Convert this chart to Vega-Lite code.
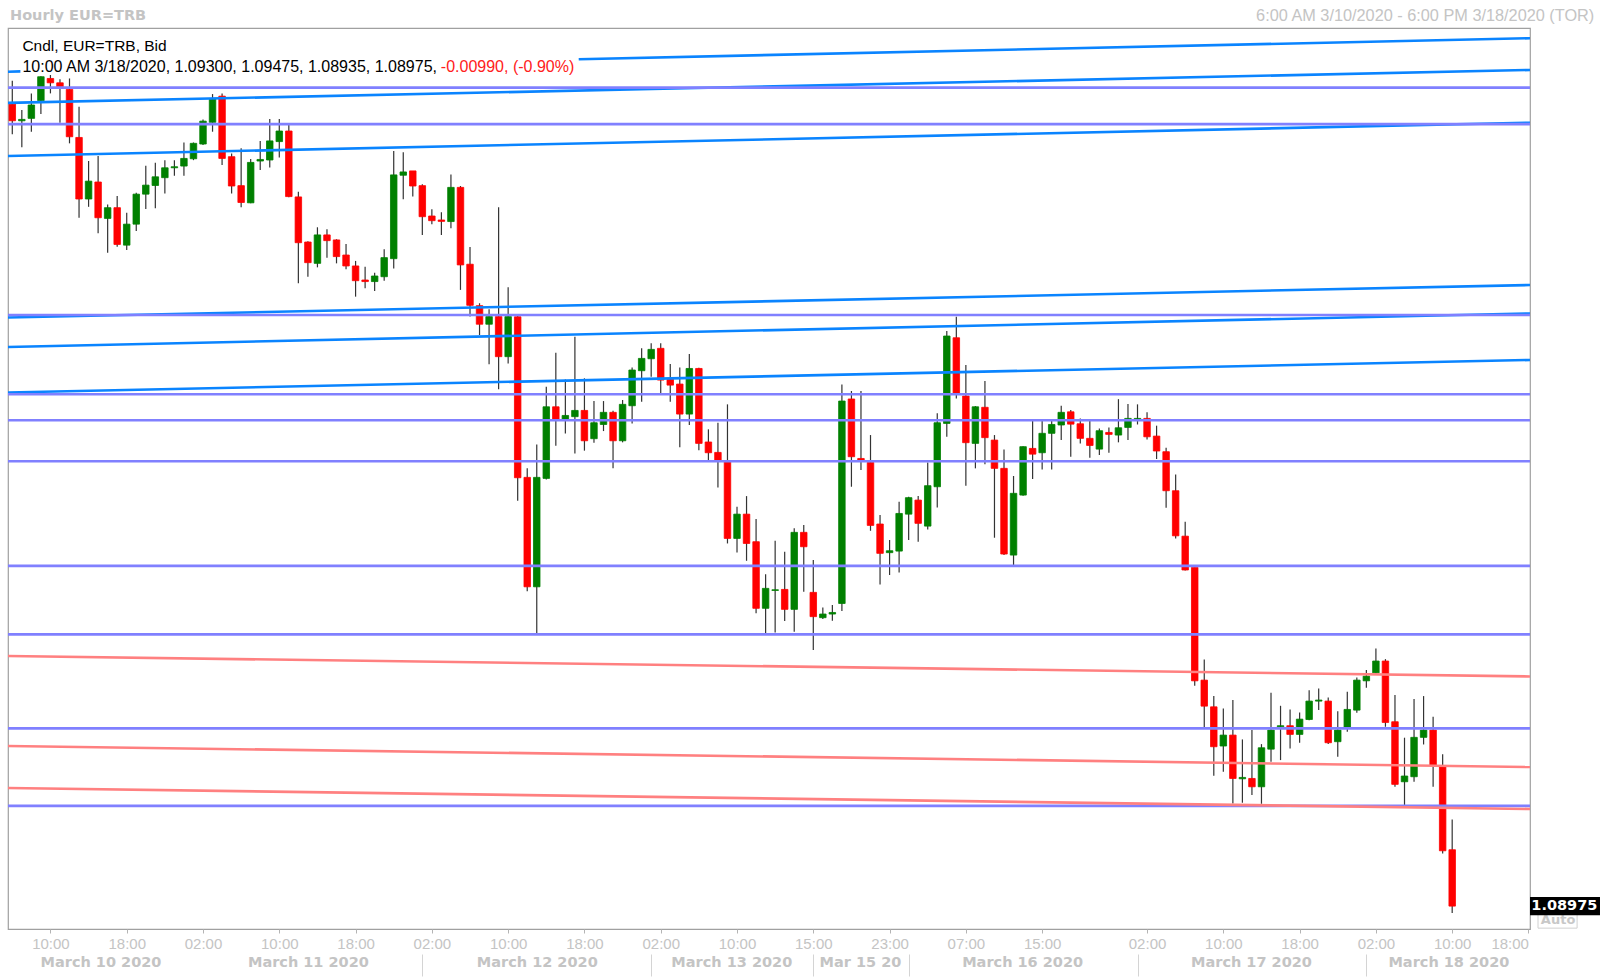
{
"$schema": "https://vega.github.io/schema/vega-lite/v6.json",
"width": 1522, "height": 901,
"autosize": "none",
"padding": {"left": 8, "top": 28, "right": 70, "bottom": 48},
"background": "white",
"config": {"view": {"stroke": "#a0a0a0", "strokeWidth": 1.2}, "font": "Liberation Sans", "scale": {"continuousPadding": 0}},
"datasets": {
"candles": [
{"i":0,"o":1.13599,"h":1.13734,"l":1.13426,"c":1.13503},
{"i":1,"o":1.13503,"h":1.13565,"l":1.13350,"c":1.13511},
{"i":2,"o":1.13517,"h":1.13661,"l":1.13440,"c":1.13594},
{"i":3,"o":1.13619,"h":1.13760,"l":1.13542,"c":1.13757},
{"i":4,"o":1.13747,"h":1.13767,"l":1.13661,"c":1.13722},
{"i":5,"o":1.13722,"h":1.13742,"l":1.13492,"c":1.13699},
{"i":6,"o":1.13684,"h":1.13747,"l":1.13373,"c":1.13411},
{"i":7,"o":1.13407,"h":1.13584,"l":1.12944,"c":1.13052},
{"i":8,"o":1.13052,"h":1.13271,"l":1.13007,"c":1.13155},
{"i":9,"o":1.13150,"h":1.13300,"l":1.12854,"c":1.12944},
{"i":10,"o":1.12940,"h":1.13021,"l":1.12742,"c":1.13002},
{"i":11,"o":1.13002,"h":1.13069,"l":1.12777,"c":1.12790},
{"i":12,"o":1.12786,"h":1.12973,"l":1.12758,"c":1.12907},
{"i":13,"o":1.12907,"h":1.13088,"l":1.12867,"c":1.13080},
{"i":14,"o":1.13080,"h":1.13244,"l":1.12994,"c":1.13132},
{"i":15,"o":1.13130,"h":1.13261,"l":1.12998,"c":1.13180},
{"i":16,"o":1.13175,"h":1.13276,"l":1.13084,"c":1.13232},
{"i":17,"o":1.13232,"h":1.13276,"l":1.13186,"c":1.13238},
{"i":18,"o":1.13242,"h":1.13378,"l":1.13186,"c":1.13286},
{"i":19,"o":1.13284,"h":1.13378,"l":1.13276,"c":1.13373},
{"i":20,"o":1.13369,"h":1.13511,"l":1.13363,"c":1.13501},
{"i":21,"o":1.13494,"h":1.13657,"l":1.13440,"c":1.13628},
{"i":22,"o":1.13645,"h":1.13661,"l":1.13248,"c":1.13286},
{"i":23,"o":1.13296,"h":1.13315,"l":1.13084,"c":1.13127},
{"i":24,"o":1.13129,"h":1.13344,"l":1.13004,"c":1.13032},
{"i":25,"o":1.13030,"h":1.13282,"l":1.13027,"c":1.13263},
{"i":26,"o":1.13271,"h":1.13386,"l":1.13219,"c":1.13280},
{"i":27,"o":1.13277,"h":1.13513,"l":1.13233,"c":1.13387},
{"i":28,"o":1.13383,"h":1.13513,"l":1.13291,"c":1.13444},
{"i":29,"o":1.13444,"h":1.13483,"l":1.13062,"c":1.13066},
{"i":30,"o":1.13064,"h":1.13094,"l":1.12566,"c":1.12800},
{"i":31,"o":1.12804,"h":1.12808,"l":1.12604,"c":1.12685},
{"i":32,"o":1.12681,"h":1.12889,"l":1.12658,"c":1.12845},
{"i":33,"o":1.12845,"h":1.12877,"l":1.12714,"c":1.12812},
{"i":34,"o":1.12816,"h":1.12820,"l":1.12681,"c":1.12720},
{"i":35,"o":1.12729,"h":1.12793,"l":1.12647,"c":1.12666},
{"i":36,"o":1.12666,"h":1.12695,"l":1.12489,"c":1.12581},
{"i":37,"o":1.12585,"h":1.12662,"l":1.12537,"c":1.12576},
{"i":38,"o":1.12576,"h":1.12627,"l":1.12522,"c":1.12608},
{"i":39,"o":1.12604,"h":1.12762,"l":1.12581,"c":1.12714},
{"i":40,"o":1.12708,"h":1.13329,"l":1.12652,"c":1.13191},
{"i":41,"o":1.13189,"h":1.13321,"l":1.13050,"c":1.13208},
{"i":42,"o":1.13214,"h":1.13214,"l":1.13066,"c":1.13127},
{"i":43,"o":1.13129,"h":1.13137,"l":1.12845,"c":1.12950},
{"i":44,"o":1.12954,"h":1.12993,"l":1.12906,"c":1.12927},
{"i":45,"o":1.12931,"h":1.12975,"l":1.12845,"c":1.12923},
{"i":46,"o":1.12922,"h":1.13194,"l":1.12883,"c":1.13119},
{"i":47,"o":1.13119,"h":1.13127,"l":1.12528,"c":1.12672},
{"i":48,"o":1.12676,"h":1.12775,"l":1.12374,"c":1.12439},
{"i":49,"o":1.12437,"h":1.12451,"l":1.12268,"c":1.12330},
{"i":50,"o":1.12330,"h":1.12416,"l":1.12099,"c":1.12374},
{"i":51,"o":1.12374,"h":1.13004,"l":1.11955,"c":1.12143},
{"i":52,"o":1.12143,"h":1.12543,"l":1.12104,"c":1.12374},
{"i":53,"o":1.12373,"h":1.12377,"l":1.11312,"c":1.11445},
{"i":54,"o":1.11447,"h":1.11499,"l":1.10791,"c":1.10816},
{"i":55,"o":1.10816,"h":1.11637,"l":1.10547,"c":1.11447},
{"i":56,"o":1.11441,"h":1.11970,"l":1.11435,"c":1.11854},
{"i":57,"o":1.11854,"h":1.12166,"l":1.11629,"c":1.11781},
{"i":58,"o":1.11781,"h":1.12012,"l":1.11700,"c":1.11804},
{"i":59,"o":1.11797,"h":1.12258,"l":1.11585,"c":1.11833},
{"i":60,"o":1.11833,"h":1.12018,"l":1.11601,"c":1.11658},
{"i":61,"o":1.11670,"h":1.11887,"l":1.11647,"c":1.11762},
{"i":62,"o":1.11752,"h":1.11887,"l":1.11714,"c":1.11822},
{"i":63,"o":1.11822,"h":1.11831,"l":1.11499,"c":1.11658},
{"i":64,"o":1.11658,"h":1.11893,"l":1.11649,"c":1.11868},
{"i":65,"o":1.11860,"h":1.12081,"l":1.11758,"c":1.12066},
{"i":66,"o":1.12062,"h":1.12191,"l":1.11883,"c":1.12133},
{"i":67,"o":1.12131,"h":1.12220,"l":1.12027,"c":1.12185},
{"i":68,"o":1.12191,"h":1.12220,"l":1.11931,"c":1.12008},
{"i":69,"o":1.12012,"h":1.12100,"l":1.11883,"c":1.11979},
{"i":70,"o":1.11985,"h":1.12081,"l":1.11620,"c":1.11812},
{"i":71,"o":1.11812,"h":1.12158,"l":1.11749,"c":1.12075},
{"i":72,"o":1.12075,"h":1.12079,"l":1.11604,"c":1.11643},
{"i":73,"o":1.11651,"h":1.11724,"l":1.11547,"c":1.11589},
{"i":74,"o":1.11591,"h":1.11762,"l":1.11389,"c":1.11543},
{"i":75,"o":1.11537,"h":1.11868,"l":1.11066,"c":1.11095},
{"i":76,"o":1.11095,"h":1.11278,"l":1.11014,"c":1.11235},
{"i":77,"o":1.11235,"h":1.11339,"l":1.10966,"c":1.11066},
{"i":78,"o":1.11076,"h":1.11207,"l":1.10663,"c":1.10692},
{"i":79,"o":1.10692,"h":1.10888,"l":1.10547,"c":1.10807},
{"i":80,"o":1.10795,"h":1.11082,"l":1.10553,"c":1.10799},
{"i":81,"o":1.10801,"h":1.11018,"l":1.10619,"c":1.10686},
{"i":82,"o":1.10686,"h":1.11153,"l":1.10557,"c":1.11130},
{"i":83,"o":1.11130,"h":1.11172,"l":1.10788,"c":1.11047},
{"i":84,"o":1.10784,"h":1.10970,"l":1.10451,"c":1.10644},
{"i":85,"o":1.10638,"h":1.10697,"l":1.10630,"c":1.10659},
{"i":86,"o":1.10659,"h":1.10711,"l":1.10620,"c":1.10668},
{"i":87,"o":1.10720,"h":1.11983,"l":1.10676,"c":1.11887},
{"i":88,"o":1.11899,"h":1.11945,"l":1.11393,"c":1.11566},
{"i":89,"o":1.11556,"h":1.11945,"l":1.11489,"c":1.11547},
{"i":90,"o":1.11533,"h":1.11691,"l":1.11139,"c":1.11170},
{"i":91,"o":1.11178,"h":1.11230,"l":1.10830,"c":1.11009},
{"i":92,"o":1.11013,"h":1.11086,"l":1.10884,"c":1.11024},
{"i":93,"o":1.11022,"h":1.11307,"l":1.10899,"c":1.11239},
{"i":94,"o":1.11235,"h":1.11335,"l":1.11086,"c":1.11330},
{"i":95,"o":1.11316,"h":1.11339,"l":1.11076,"c":1.11182},
{"i":96,"o":1.11166,"h":1.11533,"l":1.11147,"c":1.11399},
{"i":97,"o":1.11393,"h":1.11816,"l":1.11274,"c":1.11762},
{"i":98,"o":1.11758,"h":1.12291,"l":1.11681,"c":1.12262},
{"i":99,"o":1.12252,"h":1.12373,"l":1.11902,"c":1.11927},
{"i":100,"o":1.11916,"h":1.12095,"l":1.11399,"c":1.11647},
{"i":101,"o":1.11643,"h":1.11858,"l":1.11499,"c":1.11854},
{"i":102,"o":1.11851,"h":1.12002,"l":1.11522,"c":1.11676},
{"i":103,"o":1.11662,"h":1.11691,"l":1.11099,"c":1.11499},
{"i":104,"o":1.11499,"h":1.11608,"l":1.10999,"c":1.11005},
{"i":105,"o":1.10999,"h":1.11455,"l":1.10941,"c":1.11355},
{"i":106,"o":1.11345,"h":1.11627,"l":1.11341,"c":1.11624},
{"i":107,"o":1.11614,"h":1.11774,"l":1.11437,"c":1.11581},
{"i":108,"o":1.11589,"h":1.11774,"l":1.11493,"c":1.11701},
{"i":109,"o":1.11701,"h":1.11774,"l":1.11493,"c":1.11752},
{"i":110,"o":1.11749,"h":1.11860,"l":1.11662,"c":1.11822},
{"i":111,"o":1.11825,"h":1.11835,"l":1.11566,"c":1.11754},
{"i":112,"o":1.11756,"h":1.11787,"l":1.11643,"c":1.11672},
{"i":113,"o":1.11672,"h":1.11774,"l":1.11560,"c":1.11631},
{"i":114,"o":1.11610,"h":1.11729,"l":1.11576,"c":1.11716},
{"i":115,"o":1.11706,"h":1.11735,"l":1.11589,"c":1.11695},
{"i":116,"o":1.11691,"h":1.11898,"l":1.11649,"c":1.11733},
{"i":117,"o":1.11735,"h":1.11870,"l":1.11662,"c":1.11787},
{"i":118,"o":1.11781,"h":1.11868,"l":1.11752,"c":1.11787},
{"i":119,"o":1.11787,"h":1.11822,"l":1.11666,"c":1.11681},
{"i":120,"o":1.11685,"h":1.11745,"l":1.11553,"c":1.11599},
{"i":121,"o":1.11595,"h":1.11618,"l":1.11272,"c":1.11370},
{"i":122,"o":1.11370,"h":1.11464,"l":1.11095,"c":1.11110},
{"i":123,"o":1.11108,"h":1.11191,"l":1.10910,"c":1.10913},
{"i":124,"o":1.10928,"h":1.10928,"l":1.10246,"c":1.10274},
{"i":125,"o":1.10278,"h":1.10397,"l":1.10005,"c":1.10128},
{"i":126,"o":1.10124,"h":1.10186,"l":1.09727,"c":1.09894},
{"i":127,"o":1.09898,"h":1.10115,"l":1.09750,"c":1.09961},
{"i":128,"o":1.09961,"h":1.10163,"l":1.09567,"c":1.09711},
{"i":129,"o":1.09709,"h":1.09936,"l":1.09571,"c":1.09717},
{"i":130,"o":1.09711,"h":1.09990,"l":1.09615,"c":1.09663},
{"i":131,"o":1.09663,"h":1.09909,"l":1.09565,"c":1.09888},
{"i":132,"o":1.09880,"h":1.10205,"l":1.09807,"c":1.09990},
{"i":133,"o":1.10009,"h":1.10130,"l":1.09817,"c":1.10015},
{"i":134,"o":1.10015,"h":1.10109,"l":1.09884,"c":1.09965},
{"i":135,"o":1.09965,"h":1.10092,"l":1.09917,"c":1.10053},
{"i":136,"o":1.10051,"h":1.10220,"l":1.10047,"c":1.10157},
{"i":137,"o":1.10157,"h":1.10230,"l":1.10105,"c":1.10163},
{"i":138,"o":1.10157,"h":1.10178,"l":1.09909,"c":1.09917},
{"i":139,"o":1.09923,"h":1.10099,"l":1.09836,"c":1.09990},
{"i":140,"o":1.10005,"h":1.10211,"l":1.09980,"c":1.10109},
{"i":141,"o":1.10105,"h":1.10293,"l":1.10090,"c":1.10278},
{"i":142,"o":1.10274,"h":1.10336,"l":1.10234,"c":1.10301},
{"i":143,"o":1.10320,"h":1.10461,"l":1.10316,"c":1.10388},
{"i":144,"o":1.10388,"h":1.10399,"l":1.10009,"c":1.10034},
{"i":145,"o":1.10038,"h":1.10192,"l":1.09663,"c":1.09677},
{"i":146,"o":1.09692,"h":1.09946,"l":1.09557,"c":1.09725},
{"i":147,"o":1.09721,"h":1.10169,"l":1.09692,"c":1.09948},
{"i":148,"o":1.09948,"h":1.10186,"l":1.09907,"c":1.09990},
{"i":149,"o":1.09990,"h":1.10067,"l":1.09663,"c":1.09784},
{"i":150,"o":1.09778,"h":1.09851,"l":1.09279,"c":1.09294},
{"i":151,"o":1.09300,"h":1.09475,"l":1.08935,"c":1.08975}
],
"lines": [
{"id":"A1","k":"b","x":-0.45,"p":1.13786},{"id":"A1","k":"b","x":0.85,"p":1.13788},
{"id":"A2","k":"b","x":59.4,"p":1.13858},{"id":"A2","k":"b","x":159.16,"p":1.13979},
{"id":"B","k":"b","x":-0.45,"p":1.13606},{"id":"B","k":"b","x":159.16,"p":1.13796},
{"id":"C","k":"b","x":-0.45,"p":1.13300},{"id":"C","k":"b","x":159.16,"p":1.13492},
{"id":"D","k":"b","x":-0.45,"p":1.12369},{"id":"D","k":"b","x":159.16,"p":1.12556},
{"id":"E","k":"b","x":-0.45,"p":1.12199},{"id":"E","k":"b","x":159.16,"p":1.12392},
{"id":"F","k":"b","x":-0.45,"p":1.11936},{"id":"F","k":"b","x":159.16,"p":1.12124},
{"id":"P1","k":"p","x":-0.45,"p":1.13694},{"id":"P1","k":"p","x":159.16,"p":1.13694},
{"id":"P2","k":"p","x":-0.45,"p":1.13484},{"id":"P2","k":"p","x":159.16,"p":1.13484},
{"id":"P3","k":"p","x":-0.45,"p":1.12383},{"id":"P3","k":"p","x":159.16,"p":1.12383},
{"id":"P4","k":"p","x":-0.45,"p":1.11926},{"id":"P4","k":"p","x":159.16,"p":1.11926},
{"id":"P5","k":"p","x":-0.45,"p":1.11776},{"id":"P5","k":"p","x":159.16,"p":1.11776},
{"id":"P6","k":"p","x":-0.45,"p":1.11540},{"id":"P6","k":"p","x":159.16,"p":1.11540},
{"id":"P7","k":"p","x":-0.45,"p":1.10937},{"id":"P7","k":"p","x":159.16,"p":1.10937},
{"id":"P8","k":"p","x":-0.45,"p":1.10542},{"id":"P8","k":"p","x":159.16,"p":1.10542},
{"id":"P9","k":"p","x":-0.45,"p":1.10000},{"id":"P9","k":"p","x":159.16,"p":1.10000},
{"id":"P10","k":"p","x":-0.45,"p":1.09553},{"id":"P10","k":"p","x":159.16,"p":1.09553},
{"id":"S1","k":"s","x":-0.45,"p":1.10417},{"id":"S1","k":"s","x":159.16,"p":1.10299},
{"id":"S2","k":"s","x":-0.45,"p":1.09898},{"id":"S2","k":"s","x":159.16,"p":1.09777},
{"id":"S3","k":"s","x":-0.45,"p":1.09656},{"id":"S3","k":"s","x":159.16,"p":1.09535}
]
},
"layer": [
{"data": {"name": "candles"},
 "mark": {"type": "rule", "color": "#333333", "strokeWidth": 1.2},
 "encoding": {
  "x": {"field": "i", "type": "quantitative", "scale": {"domain": [-0.45, 159.16], "nice": false, "zero": false, "padding": 0},
   "axis": {"orient": "bottom", "offset": 25, "title": null, "domain": false, "grid": false,
    "values": [9.25, 31, 43, 55, 67, 75.4, 84, 88.9, 94, 105.9, 118, 129.9, 142, 150.6],
    "labelExpr": "['March 10 2020','March 11 2020','March 12 2020','March 13 2020','Mar 15 20','March 16 2020','March 17 2020','March 18 2020'][indexof([9.25,31,55,75.4,88.9,105.9,129.9,150.6], datum.value)] || ''",
    "ticks": true, "tickSize": 22, "tickColor": "#d4d4d4", "tickWidth": 1,
    "tickOpacity": {"condition": {"test": "indexof([43,67,84,94,118,142], datum.value) >= 0", "value": 1}, "value": 0},
    "labelFont": "DejaVu Sans", "labelFontWeight": "bold", "labelFontSize": 14.5, "labelColor": "#c4c4c4",
    "labelPadding": -14, "labelBaseline": "middle", "labelOverlap": false, "labelFlush": false}},
  "y": {"field": "l", "type": "quantitative", "scale": {"domain": [1.08843, 1.14038], "nice": false, "zero": false, "padding": 0}, "axis": null},
  "y2": {"field": "h"}
 }},
{"data": {"name": "candles"},
 "transform": [{"calculate": "datum.c >= datum.o ? 'up' : 'down'", "as": "dir"}],
 "mark": {"type": "bar", "size": 6.5, "strokeWidth": 0.8},
 "encoding": {
  "x": {"field": "i", "type": "quantitative", "scale": {"domain": [-0.45, 159.16], "nice": false, "zero": false, "padding": 0}, "axis": null},
  "y": {"field": "o", "type": "quantitative", "scale": {"domain": [1.08843, 1.14038], "nice": false, "zero": false, "padding": 0}, "axis": null},
  "y2": {"field": "c"},
  "color": {"field": "dir", "type": "nominal", "scale": {"domain": ["up", "down"], "range": ["#008000", "#ff0000"]}, "legend": null},
  "stroke": {"field": "dir", "type": "nominal", "scale": {"domain": ["up", "down"], "range": ["#008000", "#ff0000"]}, "legend": null}
 }},
{"data": {"name": "lines"},
 "transform": [{"filter": "datum.k == 'b'"}],
 "mark": {"type": "line", "color": "#0a84ff", "strokeWidth": 2.6},
 "encoding": {
  "x": {"field": "x", "type": "quantitative", "scale": {"domain": [-0.45, 159.16], "nice": false, "zero": false, "padding": 0},
   "axis": {"orient": "bottom", "title": null, "domain": false, "grid": false,
    "values": [4, 12, 20, 28, 36, 44, 52, 60, 68, 76, 84, 92, 100, 108, 119, 127, 135, 143, 151, 159],
    "labelExpr": "['10:00','18:00','02:00','10:00','18:00','02:00','10:00','18:00','02:00','10:00','15:00','23:00','07:00','15:00','02:00','10:00','18:00','02:00','10:00','18:00'][indexof([4,12,20,28,36,44,52,60,68,76,84,92,100,108,119,127,135,143,151,159], datum.value)]",
    "tickSize": 4, "tickColor": "#b4b4b4", "labelFont": "Liberation Sans", "labelFontSize": 15, "labelColor": "#c4c4c4",
    "labelPadding": 10.5, "labelBaseline": "middle", "labelFlush": 10, "labelOverlap": false}},
  "y": {"field": "p", "type": "quantitative", "scale": {"domain": [1.08843, 1.14038], "nice": false, "zero": false, "padding": 0},
   "axis": {"orient": "right", "domain": false, "grid": false,
    "values": [1.09, 1.092, 1.094, 1.096, 1.098, 1.1, 1.102, 1.104, 1.106, 1.108, 1.11, 1.112, 1.114, 1.116, 1.118, 1.12, 1.122, 1.124, 1.126, 1.128, 1.13, 1.132, 1.134, 1.136],
    "format": ".3~f", "tickSize": 4, "tickColor": "#a0a0a0",
    "labelFont": "Liberation Sans", "labelFontSize": 15,
    "labelColor": {"condition": {"test": "abs(datum.value - 1.12) < 1e-7 || abs(datum.value - 1.1) < 1e-7", "value": "#7c7c7c"}, "value": "#c4c4c4"},
    "labelFontWeight": {"condition": {"test": "abs(datum.value - 1.12) < 1e-7 || abs(datum.value - 1.1) < 1e-7", "value": "bold"}, "value": "normal"},
    "labelPadding": 4, "labelBaseline": "middle", "labelOverlap": false, "labelFlush": false,
    "title": ["Price", "USD"], "titleFont": "DejaVu Sans", "titleFontSize": 14.5, "titleFontWeight": "bold", "titleColor": "#c4c4c4",
    "titleAngle": 0, "titleAlign": "left", "titleBaseline": "alphabetic", "titleX": 5, "titleY": 15.5, "titleLineHeight": 21.5}},
  "detail": {"field": "id"}
 }},
{"data": {"name": "lines"},
 "transform": [{"filter": "datum.k == 'p'"}],
 "mark": {"type": "line", "color": "#8080ff", "strokeWidth": 2.6},
 "encoding": {
  "x": {"field": "x", "type": "quantitative", "scale": {"domain": [-0.45, 159.16], "nice": false, "zero": false, "padding": 0}, "axis": null},
  "y": {"field": "p", "type": "quantitative", "scale": {"domain": [1.08843, 1.14038], "nice": false, "zero": false, "padding": 0}, "axis": null},
  "detail": {"field": "id"}
 }},
{"data": {"name": "lines"},
 "transform": [{"filter": "datum.k == 's'"}],
 "mark": {"type": "line", "color": "#ff8080", "strokeWidth": 2.6},
 "encoding": {
  "x": {"field": "x", "type": "quantitative", "scale": {"domain": [-0.45, 159.16], "nice": false, "zero": false, "padding": 0}, "axis": null},
  "y": {"field": "p", "type": "quantitative", "scale": {"domain": [1.08843, 1.14038], "nice": false, "zero": false, "padding": 0}, "axis": null},
  "detail": {"field": "id"}
 }},
{"data": {"values": [{"t": "Hourly EUR=TRB"}]},
 "mark": {"type": "text", "align": "left", "baseline": "alphabetic", "font": "DejaVu Sans", "fontWeight": "bold", "fontSize": 14.5, "color": "#c4c4c4"},
 "encoding": {"x": {"datum": -0.24, "type": "quantitative", "scale": {"domain": [-0.45, 159.16], "nice": false, "zero": false, "padding": 0}, "axis": null},
  "y": {"datum": 1.14082, "type": "quantitative", "scale": {"domain": [1.08843, 1.14038], "nice": false, "zero": false, "padding": 0}, "axis": null},
  "text": {"field": "t"}}},
{"data": {"values": [{"t": "6:00 AM 3/10/2020 - 6:00 PM 3/18/2020 (TOR)"}]},
 "mark": {"type": "text", "align": "right", "baseline": "alphabetic", "font": "Liberation Sans", "fontSize": 16.3, "color": "#c4c4c4"},
 "encoding": {"x": {"datum": 165.9, "type": "quantitative", "scale": {"domain": [-0.45, 159.16], "nice": false, "zero": false, "padding": 0}, "axis": null},
  "y": {"datum": 1.14079, "type": "quantitative", "scale": {"domain": [1.08843, 1.14038], "nice": false, "zero": false, "padding": 0}, "axis": null},
  "text": {"field": "t"}}},
{"data": {"values": [{"t": "Cndl, EUR=TRB, Bid"}]},
 "mark": {"type": "text", "align": "left", "baseline": "middle", "font": "Liberation Sans", "fontSize": 15.5, "color": "#000000"},
 "encoding": {"x": {"datum": 1.06, "type": "quantitative", "scale": {"domain": [-0.45, 159.16], "nice": false, "zero": false, "padding": 0}, "axis": null},
  "y": {"datum": 1.13934, "type": "quantitative", "scale": {"domain": [1.08843, 1.14038], "nice": false, "zero": false, "padding": 0}, "axis": null},
  "text": {"field": "t"}}},
{"data": {"values": [{"t": "10:00 AM 3/18/2020, 1.09300, 1.09475, 1.08935, 1.08975,"}]},
 "mark": {"type": "text", "align": "left", "baseline": "middle", "font": "Liberation Sans", "fontSize": 16, "color": "#000000"},
 "encoding": {"x": {"datum": 1.06, "type": "quantitative", "scale": {"domain": [-0.45, 159.16], "nice": false, "zero": false, "padding": 0}, "axis": null},
  "y": {"datum": 1.13811, "type": "quantitative", "scale": {"domain": [1.08843, 1.14038], "nice": false, "zero": false, "padding": 0}, "axis": null},
  "text": {"field": "t"}}},
{"data": {"values": [{"t": "-0.00990, (-0.90%)"}]},
 "mark": {"type": "text", "align": "left", "baseline": "middle", "font": "Liberation Sans", "fontSize": 16, "color": "#ff2020"},
 "encoding": {"x": {"datum": 44.94, "type": "quantitative", "scale": {"domain": [-0.45, 159.16], "nice": false, "zero": false, "padding": 0}, "axis": null},
  "y": {"datum": 1.13811, "type": "quantitative", "scale": {"domain": [1.08843, 1.14038], "nice": false, "zero": false, "padding": 0}, "axis": null},
  "text": {"field": "t"}}},
{"data": {"values": [{"t": "Auto"}]},
 "mark": {"type": "rect", "fill": "#ffffff", "stroke": "#d0d0d0", "strokeWidth": 1},
 "encoding": {"x": {"datum": 160.0, "type": "quantitative", "scale": {"domain": [-0.45, 159.16], "nice": false, "zero": false, "padding": 0}, "axis": null},
  "x2": {"datum": 164.1},
  "y": {"datum": 1.08981, "type": "quantitative", "scale": {"domain": [1.08843, 1.14038], "nice": false, "zero": false, "padding": 0}, "axis": null},
  "y2": {"datum": 1.08848}}},
{"data": {"values": [{"t": "Auto"}]},
 "mark": {"type": "text", "align": "left", "baseline": "middle", "font": "DejaVu Sans", "fontWeight": "bold", "fontSize": 13, "color": "#c8c8c8"},
 "encoding": {"x": {"datum": 160.3, "type": "quantitative", "scale": {"domain": [-0.45, 159.16], "nice": false, "zero": false, "padding": 0}, "axis": null},
  "y": {"datum": 1.08894, "type": "quantitative", "scale": {"domain": [1.08843, 1.14038], "nice": false, "zero": false, "padding": 0}, "axis": null},
  "text": {"field": "t"}}},
{"data": {"values": [{"p": 1.08975, "label": "1.08975"}]},
 "mark": {"type": "rect", "fill": "#000000"},
 "encoding": {"x": {"datum": 159.16, "type": "quantitative", "scale": {"domain": [-0.45, 159.16], "nice": false, "zero": false, "padding": 0}, "axis": null},
  "x2": {"datum": 166.5},
  "y": {"datum": 1.09027, "type": "quantitative", "scale": {"domain": [1.08843, 1.14038], "nice": false, "zero": false, "padding": 0}, "axis": null},
  "y2": {"datum": 1.08923}}},
{"data": {"values": [{"p": 1.08975, "label": "1.08975"}]},
 "mark": {"type": "text", "align": "left", "baseline": "middle", "font": "DejaVu Sans", "fontWeight": "bold", "fontSize": 14.5, "color": "#ffffff"},
 "encoding": {"x": {"datum": 159.3, "type": "quantitative", "scale": {"domain": [-0.45, 159.16], "nice": false, "zero": false, "padding": 0}, "axis": null},
  "y": {"field": "p", "type": "quantitative", "scale": {"domain": [1.08843, 1.14038], "nice": false, "zero": false, "padding": 0}, "axis": null},
  "text": {"field": "label"}}}
],
"resolve": {"axis": {"x": "independent"}}
}
